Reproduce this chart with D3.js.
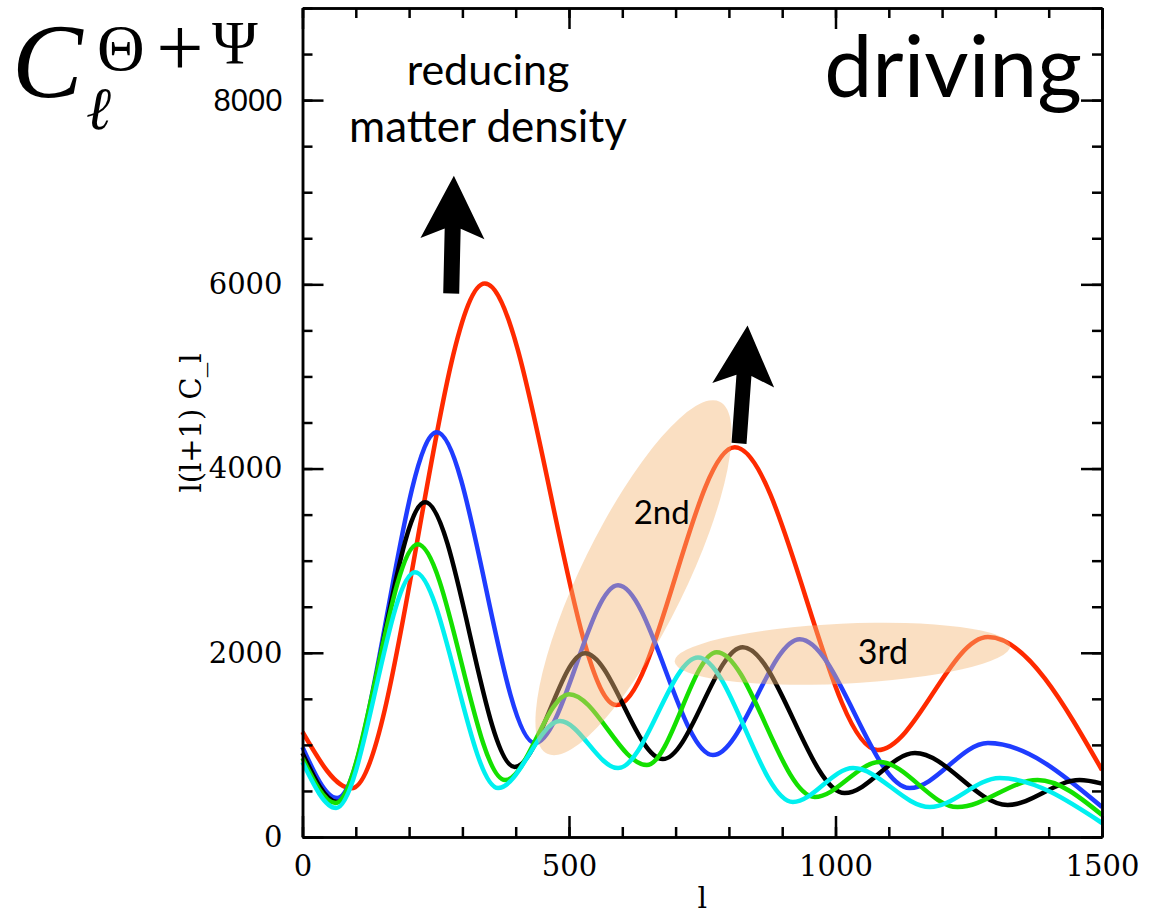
<!DOCTYPE html>
<html>
<head>
<meta charset="utf-8">
<script src="https://cdn.jsdelivr.net/npm/d3@7/dist/d3.min.js"></script>
<style>
  body { margin: 0; background: #fff; }
  svg { display: block; }
  .axis path, .axis line { stroke: #000; stroke-width: 2.5; }
  .axis text { font-family: "DejaVu Serif", serif; font-size: 29px; fill: #000; }
  .note { font-family: Lato, "Open Sans", sans-serif; fill: #000; }
  .math { font-family: "Liberation Serif", serif; fill: #000; }
  .curve { fill: none; stroke-width: 4.5; stroke-linejoin: round; }
</style>
</head>
<body>
<div id="chart"></div>
<script>
"use strict";

// [l, l(l+1)C_l] at turning points
var redCurve = [[0, 1140], [92, 528], [342, 6009], [589, 1432], [811, 4230], [1079, 944], [1286, 2170], [1500, 727]];
var blueCurve = [[0, 976], [65, 423], [252, 4393], [436, 1020], [592, 2733], [770, 889], [933, 2147], [1139, 531], [1286, 1020], [1500, 325]];
var blackCurve = [[0, 911], [65, 380], [230, 3633], [398, 760], [530, 1995], [676, 846], [826, 2061], [1017, 477], [1149, 911], [1323, 347], [1458, 618], [1500, 580]];
var greenCurve = [[0, 857], [62, 369], [216, 3178], [380, 618], [500, 1551], [646, 781], [777, 2007], [961, 434], [1083, 813], [1229, 325], [1379, 618], [1500, 239]];
var cyanCurve = [[0, 813], [63, 315], [211, 2874], [367, 531], [483, 1258], [592, 748], [742, 1950], [920, 380], [1033, 748], [1177, 325], [1308, 640], [1500, 152]];

var seriesNames = ["red", "blue", "black", "green", "cyan"];
var seriesData = [redCurve, blueCurve, blackCurve, greenCurve, cyanCurve];
var seriesColors = ["#ff2a00", "#1f3cff", "#000000", "#14e000", "#00f0f0"];

var xMajor = [0, 500, 1000, 1500];
var xMinor = d3.range(0, 1501, 100);
var yMajor = [0, 2000, 4000, 6000, 8000];
var yMinor = d3.range(0, 9001, 500);

(function() {
  var width = 1149, height = 916;

  var svg = d3.select("#chart").append("svg")
    .attr("width", width)
    .attr("height", height);

  svg.append("rect").attr("width", width).attr("height", height).attr("fill", "#fff");

  var x = d3.scaleLinear().domain([0, 1500]).range([302.5, 1102]);
  var y = d3.scaleLinear().domain([0, 9000]).range([837, 8]);

  var plot = svg.append("g");

  // curves
  var line = d3.line()
    .x(function(d) { return x(d[0]); })
    .y(function(d) { return y(d[1]); })
    .curve(d3.curveMonotoneX);

  plot.selectAll("path.curve")
    .data(seriesData)
  .enter().append("path")
    .attr("class", function(d, i) { return "curve " + seriesNames[i]; })
    .attr("stroke", function(d, i) { return seriesColors[i]; })
    .attr("d", line);

  // shaded peak groups, laid over the curves
  var shade = "#f5b877";
  plot.append("ellipse")
    .attr("transform", "translate(" + x(621) + "," + y(2815) + ") rotate(-63.9)")
    .attr("rx", 196).attr("ry", 52)
    .attr("fill", shade).attr("fill-opacity", 0.45);
  plot.append("ellipse")
    .attr("transform", "translate(" + x(1013) + "," + y(1990) + ") rotate(-2.7)")
    .attr("rx", 168).attr("ry", 30)
    .attr("fill", shade).attr("fill-opacity", 0.45);

  plot.append("text").attr("class", "note")
    .attr("x", x(674)).attr("y", 524)
    .attr("text-anchor", "middle").attr("font-size", 33)
    .text("2nd");
  plot.append("text").attr("class", "note")
    .attr("x", x(1089)).attr("y", 664)
    .attr("text-anchor", "middle").attr("font-size", 34)
    .text("3rd");

  // arrows: tip and tail in data units
  function arrow(tip, tail, headLen, headHalf, shaftHalf) {
    var tx = x(tip[0]), ty = y(tip[1]);
    var bx = x(tail[0]), by = y(tail[1]);
    var dx = bx - tx, dy = by - ty;
    var len = Math.sqrt(dx * dx + dy * dy);
    var ux = dx / len, uy = dy / len;   // along shaft, tip -> tail
    var px = -uy, py = ux;              // across shaft
    function pt(a, b) { return [tx + ux * a + px * b, ty + uy * a + py * b]; }
    var pts = [
      pt(0, 0),
      pt(headLen, headHalf),
      pt(headLen - 10, shaftHalf),
      pt(len, shaftHalf),
      pt(len, -shaftHalf),
      pt(headLen - 10, -shaftHalf),
      pt(headLen, -headHalf)
    ];
    svg.append("path")
      .attr("d", "M" + pts.join("L") + "Z")
      .attr("fill", "#000");
  }
  arrow([284, 7180], [279, 5900], 63, 32, 8);
  arrow([835, 5553], [819, 4273], 60, 31, 7.5);

  // axes, ticks pointing inwards on all four sides
  function minor(axis) {
    return axis.tickSize(-10).tickSizeOuter(0).tickFormat("");
  }
  svg.append("g").attr("class", "axis")
    .attr("transform", "translate(0," + y(0) + ")")
    .call(minor(d3.axisBottom(x).tickValues(xMinor)));
  svg.append("g").attr("class", "axis")
    .attr("transform", "translate(0," + y(0) + ")")
    .call(d3.axisBottom(x).tickValues(xMajor).tickSize(-21).tickSizeOuter(0).tickPadding(18).tickFormat(d3.format("d")));
  svg.append("g").attr("class", "axis")
    .attr("transform", "translate(0," + y(9000) + ")")
    .call(minor(d3.axisTop(x).tickValues(xMinor)));
  svg.append("g").attr("class", "axis")
    .attr("transform", "translate(0," + y(9000) + ")")
    .call(d3.axisTop(x).tickValues(xMajor).tickSize(-21).tickSizeOuter(0).tickFormat(""));

  svg.append("g").attr("class", "axis")
    .attr("transform", "translate(" + x(0) + ",0)")
    .call(minor(d3.axisLeft(y).tickValues(yMinor)));
  var yAxis = svg.append("g").attr("class", "axis")
    .attr("transform", "translate(" + x(0) + ",0)")
    .call(d3.axisLeft(y).tickValues(yMajor).tickSize(-21).tickSizeOuter(0).tickPadding(20).tickFormat(d3.format("d")));
  svg.append("g").attr("class", "axis")
    .attr("transform", "translate(" + x(1500) + ",0)")
    .call(minor(d3.axisRight(y).tickValues(yMinor)));
  svg.append("g").attr("class", "axis")
    .attr("transform", "translate(" + x(1500) + ",0)")
    .call(d3.axisRight(y).tickValues(yMajor).tickSize(-21).tickSizeOuter(0).tickFormat(""));

  // the top label was retyped in a sans face on the slide
  yAxis.selectAll(".tick text")
    .filter(function(d) { return d === 8000; })
    .style("font-family", "'Liberation Sans', Arial, sans-serif")
    .style("font-size", "31px");

  // axis titles
  svg.append("text").attr("class", "axis-title")
    .attr("transform", "translate(201," + 423 + ") rotate(-90)")
    .attr("text-anchor", "middle")
    .style("font-family", "'DejaVu Serif', serif").style("font-size", "29px")
    .text("l(l+1)  C_l");
  svg.append("text")
    .attr("x", x(750)).attr("y", 908)
    .attr("text-anchor", "middle")
    .style("font-family", "'DejaVu Serif', serif").style("font-size", "30px")
    .text("l");

  // big labels
  svg.append("text").attr("class", "note")
    .attr("x", 1082).attr("y", 97)
    .attr("text-anchor", "end").attr("font-size", 86)
    .text("driving");
  svg.append("text").attr("class", "note")
    .attr("x", 488).attr("y", 85)
    .attr("text-anchor", "middle").attr("font-size", 43)
    .text("reducing");
  svg.append("text").attr("class", "note")
    .attr("x", 488).attr("y", 142)
    .attr("text-anchor", "middle").attr("font-size", 44)
    .text("matter density");

  // C_l^{Theta+Psi}
  svg.append("text").attr("class", "math")
    .attr("x", 12).attr("y", 97)
    .attr("font-size", 106).attr("font-style", "italic")
    .text("C");
  svg.append("text").attr("class", "math")
    .attr("x", 86).attr("y", 129)
    .attr("font-size", 60).attr("font-style", "italic")
    .text("\u2113");
  svg.append("text").attr("class", "math")
    .attr("x", 97).attr("y", 70)
    .attr("font-size", 66)
    .text("\u0398");
  svg.append("text").attr("class", "math")
    .attr("x", 180).attr("y", 76)
    .attr("text-anchor", "middle")
    .attr("font-size", 84)
    .text("+");
  svg.append("text").attr("class", "math")
    .attr("x", 212).attr("y", 63)
    .attr("font-size", 62)
    .text("\u03A8");
})();
</script>
</body>
</html>
